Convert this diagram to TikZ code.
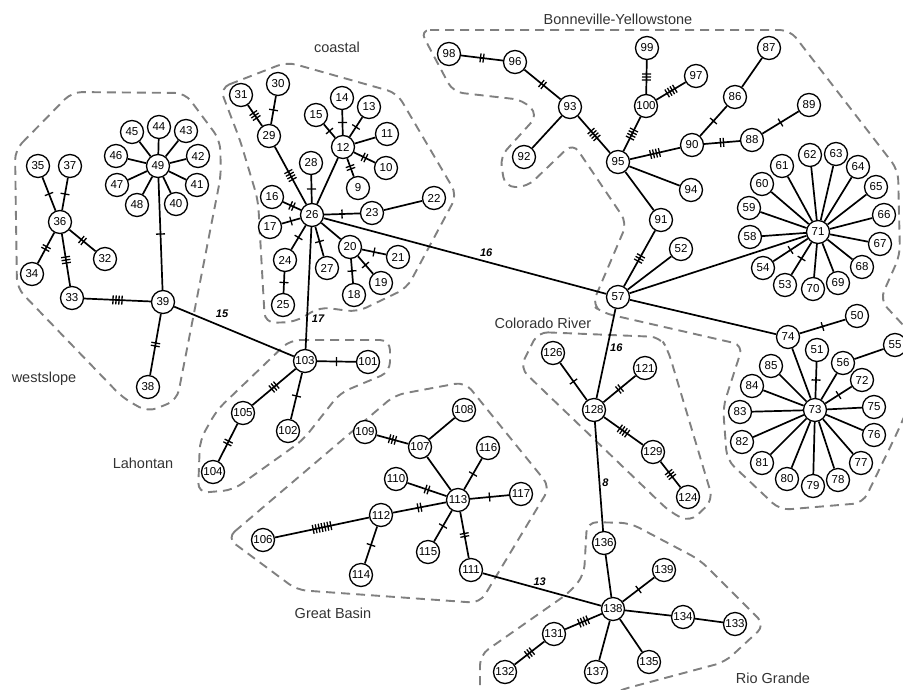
\documentclass[tikz,border=0pt]{standalone}
\usepackage{fontspec}
\setmainfont{Liberation Sans}
\usetikzlibrary{calc,decorations.markings}

\begin{document}
\begin{tikzpicture}[x=1pt,y=-1pt]
  \tikzstyle{hap}=[draw,circle,line width=1.3pt,inner sep=0pt,minimum size=23pt,fill=white,font=\fontsize{11.5}{12}\selectfont]
  \tikzstyle{link}=[line width=1.7pt]
  \tikzstyle{mut}=[link,postaction={decorate},decoration={markings,
      mark=at position 0.5 with
      {
        \foreach \k in {1,...,#1}
          \draw[line width=1.3pt] ({(\k-(#1+1)/2)*3pt},-4.5pt) -- ++(0,9pt);
      }}]
  \tikzstyle{hull}=[black!50,line width=1.9pt,dash pattern=on 9pt off 6pt,rounded corners=10pt]
  \tikzstyle{region}=[font=\fontsize{14.5}{16}\selectfont,text=black!80]
  \tikzstyle{elab}=[font=\fontsize{11}{12}\selectfont\bfseries\itshape,inner sep=1pt]
  \useasboundingbox (0,0) rectangle (903,689);

  % drainages
  \draw[hull] (15,150) -- (72,92) -- (185,93) -- (220,140) -- (221,175) -- (177,400) -- (148,412) -- (123,398) -- (17,288) -- cycle;
  \draw[hull] (220,88) -- (287,62) -- (397,93) -- (457,195) -- (407,288) -- (357,312) -- (320,307) -- (295,322) -- (265,323) -- (258,200) -- (240,140) -- cycle;
  \draw[hull] (420,30) -- (790,30) -- (898,170) -- (900,255) -- (880,300) -- (915,338) -- (915,392) -- (897,433) -- (863,503) -- (780,510) -- (727,460) -- (723,407) -- (743,345) -- (603,313) -- (592,305) -- (627,223) -- (573,143) -- (527,187) -- (505,187) -- (500,157) -- (538,115) -- (523,100) -- (453,92) -- cycle;
  \draw[hull] (538,332) -- (660,337) -- (668,350) -- (713,500) -- (690,522) -- (670,512) -- (520,368) -- cycle;
  \draw[hull] (290,340) -- (390,340) -- (390,372) -- (340,393) -- (303,440) -- (233,490) -- (198,493) -- (200,440) -- (217,410) -- cycle;
  \draw[hull] (227,538) -- (395,395) -- (465,382) -- (550,487) -- (480,603) -- (297,590) -- cycle;
  \draw[hull] (480,700) -- (480,655) -- (570,592) -- (584,575) -- (587,522) -- (630,523) -- (700,560) -- (765,625) -- (725,662) -- (620,690) -- (600,700);

  \node[region] (westslope) at (44,379) {westslope};
  \node[region] (coastal) at (337,47) {coastal};
  \node[region] (bonneville) at (618,19) {Bonneville-Yellowstone};
  \node[region] (colorado) at (543,323) {Colorado River};
  \node[region] (lahontan) at (143,463) {Lahontan};
  \node[region] (greatbasin) at (333,613) {Great Basin};
  \node[region] (riogrande) at (773,678) {Rio Grande};

  % haplotypes
  \foreach \n/\x/\y in {32/105/259, 33/72/298, 34/32/274, 35/38/166, 36/60/222, 37/70/166,
      38/148/387, 39/163/302, 40/176/204, 41/197/185, 42/198/156, 43/186/131, 44/159/127,
      45/132/132, 46/116/156, 47/117/185, 48/137/205, 49/158/166}
    \node[hap] (h\n) at (\x,\y) {\n};
  \foreach \n/\x/\y in {9/358/188, 10/386/168, 11/387/134, 12/343/147, 13/369/107, 14/342/98,
      15/316/115, 16/272/197, 17/270/227, 18/354/295, 19/381/283, 20/350/247, 21/398/257,
      22/434/198, 23/372/213, 24/285/260, 25/283/305, 26/312/215, 27/327/268, 28/311/163,
      29/269/136, 30/278/84, 31/241/95}
    \node[hap] (h\n) at (\x,\y) {\n};
  \foreach \n/\x/\y in {101/368/362, 102/288/431, 103/305/361, 104/213/472, 105/243/413,
      106/263/540, 107/420/447, 108/464/410, 109/365/432, 110/396/479, 111/471/570,
      112/381/515, 113/458/500, 114/361/575, 115/428/552, 116/488/448, 117/521/494}
    \node[hap] (h\n) at (\x,\y) {\n};
  \foreach \n/\x/\y in {86/735/97, 87/769/48, 88/752/140, 89/809/105, 90/692/145, 91/661/220,
      92/524/157, 93/570/107, 94/691/190, 95/618/162, 96/515/62, 97/696/76, 98/449/54,
      99/647/48, 100/646/106, 57/618/297, 52/681/249}
    \node[hap] (h\n) at (\x,\y) {\n};
  \foreach \n/\x/\y in {71/818/232, 53/785/285, 54/763/268, 58/750/237, 59/749/208, 60/762/184,
      61/782/166, 62/810/155, 63/836/154, 64/858/167, 65/876/187, 66/884/215, 67/880/244,
      68/862/267, 69/838/283, 70/813/289}
    \node[hap] (h\n) at (\x,\y) {\n};
  \foreach \n/\x/\y in {74/788/337, 50/857/316, 55/895/345, 56/843/363, 51/817/350, 72/862/380,
      73/815/410, 75/874/407, 76/874/435, 77/861/463, 78/838/480, 79/813/486, 80/787/479,
      81/762/463, 82/742/442, 83/740/412, 84/752/386, 85/771/366}
    \node[hap] (h\n) at (\x,\y) {\n};
  \foreach \n/\x/\y in {121/645/368, 124/688/497, 126/553/353, 128/594/410, 129/653/452,
      131/554/634, 132/505/672, 133/735/624, 134/683/617, 135/649/662, 136/604/543,
      137/596/672, 138/613/609, 139/664/570}
    \node[hap] (h\n) at (\x,\y) {\n};

  % connections with mutation steps
  \foreach \a/\b/\m in {36/35/1, 36/37/1, 36/34/2, 36/32/2, 36/33/3, 33/39/4, 39/49/1, 39/38/2,
      29/31/3, 29/30/1, 26/29/4, 26/28/1, 12/15/1, 12/14/1, 12/13/1, 12/10/2, 12/9/2,
      26/16/2, 26/17/1, 26/24/1, 24/25/1, 26/27/1, 20/21/1, 20/19/1, 20/18/1, 26/23/1,
      103/101/1, 103/105/3, 105/104/2, 103/102/1,
      109/107/3, 113/116/1, 113/110/2, 113/117/1, 113/112/2, 112/106/7, 112/114/1,
      113/115/1, 113/111/2,
      98/96/2, 96/93/2, 93/95/4, 95/100/4, 100/99/3, 100/97/4, 95/90/4, 90/86/1, 90/88/2,
      88/89/1, 91/57/3, 71/53/1, 71/54/1, 74/50/1, 73/51/1, 73/72/1,
      128/126/1, 128/121/2, 128/129/4, 129/124/3,
      138/139/1, 138/131/4, 131/132/3}
    \draw[mut=\m] (h\a) -- (h\b);
  \foreach \a/\b in {26/12, 12/11, 26/20, 23/22, 107/108, 107/113, 93/92, 86/87, 95/94,
      95/91, 57/52, 57/71, 57/74, 74/73, 73/56, 56/55, 136/138, 138/134, 134/133,
      138/137, 138/135}
    \draw[link] (h\a) -- (h\b);
  \foreach \b in {40,...,48}
    \draw[link] (h49) -- (h\b);
  \foreach \b in {58,...,70}
    \draw[link] (h71) -- (h\b);
  \foreach \b in {75,...,85}
    \draw[link] (h73) -- (h\b);

  \draw[link] (h39) -- node[elab,pos=.4,above=7pt] {15} (h103);
  \draw[link] (h26) -- node[elab,pos=.75,right=3pt] {17} (h103);
  \draw[link] (h26) -- node[elab,pos=.575,above=3pt] {16} (h57);
  \draw[link] (h57) -- node[elab,pos=.43,right=1pt] {16} (h128);
  \draw[link] (h128) -- node[elab,pos=.556,right=1pt] {8} (h136);
  \draw[link] (h111) -- node[elab,pos=.48,above=1pt] {13} (h138);
\end{tikzpicture}
\end{document}
